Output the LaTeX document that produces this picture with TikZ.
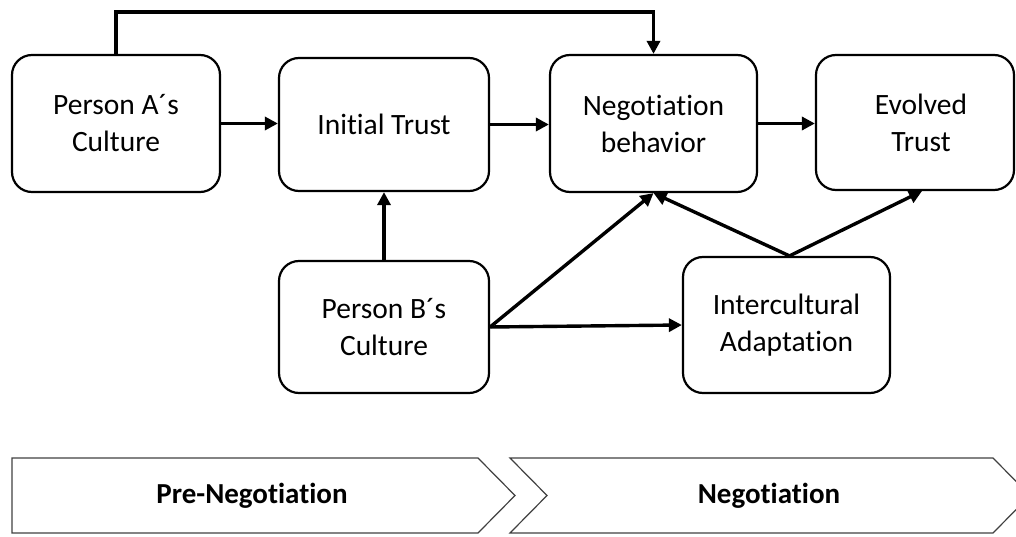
\documentclass[tikz,border=0pt]{standalone}
\usepackage{fontspec}
\setmainfont{Carlito}[RawFeature={-liga;-clig;-calt;-dlig}]
\usetikzlibrary{arrows.meta}
\newcommand\brk{\kern0pt }
\tikzset{
  box/.style={draw, line width=2.2pt, rounded corners=20pt, align=center,
    font=\fontsize{29.5}{37}\selectfont, inner sep=0pt},
  arr/.style={line width=3.4pt, -{Triangle[length=13pt,width=13pt]}},
  phase/.style={draw=black!75, line width=1.2pt},
  phaselabel/.style={font=\bfseries\fontsize{29}{32}\selectfont}
}
\begin{document}
\begin{tikzpicture}[x=1pt,y=-1pt]
\useasboundingbox (0,0) rectangle (1016,537);
\node[box, minimum width=208pt, minimum height=137pt] (A) at (116,123.5) {Person A´s\\Culture};
\node[box, minimum width=210pt, minimum height=133pt] (IT) at (384,124.5) {Initial Trust};
\node[box, minimum width=207pt, minimum height=137pt] (NB) at (653.5,123.5) {Negot\brk iat\brk ion\\behavior};
\node[box, minimum width=198pt, minimum height=135pt] (ET) at (915,122.5) {\hspace*{12pt}Evolved\\\hspace*{12pt}Trust};
\node[box, minimum width=210pt, minimum height=132pt] (PB) at (384,327) {Person B´s\\Culture};
\node[box, minimum width=207pt, minimum height=136pt] (IA) at (786.5,325) {Intercultural\\Adaptation};

\draw[arr, line join=miter] (A.north) -- ++(0,-42) -| (NB.north);
\draw[arr] (A.east) -- (A.east -| IT.west);
\draw[arr] (IT.east) -- (IT.east -| NB.west);
\draw[arr] (NB.east) -- (NB.east -| ET.west);
\draw[arr] (PB.north) -- (IT.south);
\draw[arr] (PB.east) -- (NB.south);
\draw[arr] (PB.east) -- (IA.west);
\draw[arr] ([xshift=3pt]IA.north) -- (NB.south);
\draw[arr] ([xshift=3pt]IA.north) -- ([xshift=7pt]ET.south);

\draw[phase] (12,458) -- (478,458) -- (515,495.5) -- (478,533) -- (12,533) -- cycle;
\draw[phase] (510,458) -- (993,458) -- (1030,495.5) -- (993,533) -- (510,533) -- (547,495.5) -- cycle;
\node[phaselabel] (pre) at (252,495.5) {Pre-Negot\brk iat\brk ion};
\node[phaselabel] (neg) at (769,495.5) {Negot\brk iat\brk ion};
\end{tikzpicture}
\end{document}
